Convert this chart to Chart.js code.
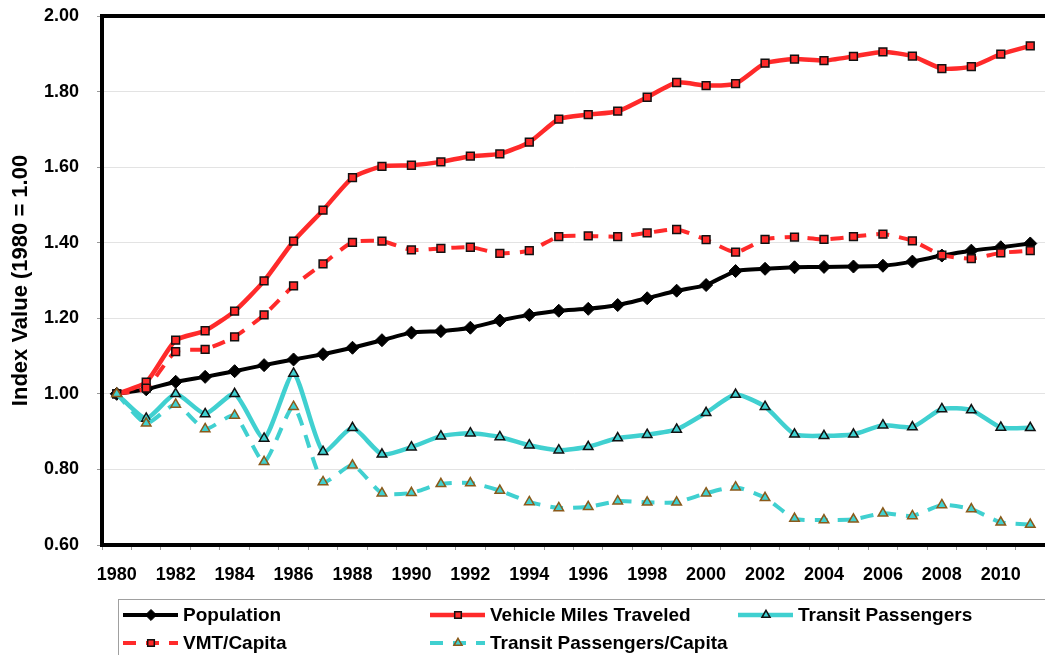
<!DOCTYPE html>
<html>
<head>
<meta charset="utf-8">
<script src="https://cdn.jsdelivr.net/npm/chart.js@4/dist/chart.umd.min.js"></script>
<style>
  html, body { margin: 0; padding: 0; background: #fff; }
  #wrap { width: 1045px; height: 655px; overflow: hidden; }
</style>
</head>
<body>
<div id="wrap"><canvas id="c" width="1045" height="655"></canvas></div>
<script>
const years = ['1980','1981','1982','1983','1984','1985','1986','1987','1988','1989',
               '1990','1991','1992','1993','1994','1995','1996','1997','1998','1999',
               '2000','2001','2002','2003','2004','2005','2006','2007','2008','2009',
               '2010','2011'];

const population = [1.000,1.012,1.032,1.045,1.060,1.076,1.091,1.105,1.122,1.142,
                    1.162,1.166,1.175,1.194,1.209,1.220,1.225,1.235,1.253,1.273,
                    1.288,1.325,1.331,1.335,1.336,1.337,1.339,1.350,1.366,1.379,
                    1.388,1.398];

const vmt = [1.000,1.031,1.142,1.167,1.219,1.299,1.404,1.486,1.572,1.602,
             1.605,1.614,1.629,1.635,1.666,1.727,1.739,1.748,1.785,1.824,
             1.816,1.821,1.875,1.886,1.882,1.893,1.905,1.894,1.861,1.866,
             1.899,1.921];

const vmtPerCapita = [1.000,1.015,1.112,1.118,1.151,1.209,1.286,1.344,1.401,1.404,
                      1.381,1.385,1.388,1.372,1.379,1.416,1.418,1.416,1.426,1.435,
                      1.408,1.375,1.409,1.415,1.409,1.416,1.423,1.405,1.367,1.358,
                      1.373,1.379];

const transit = [1.000,0.935,1.000,0.947,1.000,0.882,1.054,0.847,0.910,0.840,
                 0.859,0.888,0.896,0.886,0.864,0.851,0.860,0.883,0.892,0.906,
                 0.950,0.998,0.966,0.893,0.889,0.893,0.917,0.912,0.960,0.957,
                 0.911,0.910];

const transitPerCapita = [1.000,0.922,0.972,0.907,0.943,0.820,0.966,0.767,0.811,0.737,
                          0.738,0.762,0.764,0.744,0.714,0.698,0.701,0.716,0.713,0.713,
                          0.737,0.753,0.725,0.670,0.666,0.668,0.684,0.677,0.706,0.695,
                          0.660,0.654];

const yTicks = [0.60, 0.80, 1.00, 1.20, 1.40, 1.60, 1.80, 2.00];
const seriesNames = ['Population','Vehicle Miles Traveled','Transit Passengers','VMT/Capita','Transit Passengers/Capita'];
const yTitle = 'Index Value (1980 = 1.00';

const FONT = '"Liberation Sans", Arial, Helvetica, sans-serif';
const RED = '#ff2a2a';
const TURQ = '#40d0d0';
const DASH = [13, 10];

const framePlugin = {
  id: 'frame',
  afterDraw(chart) {
    const {ctx, chartArea: a} = chart;
    ctx.save();
    ctx.strokeStyle = '#000';
    ctx.lineWidth = 4;
    ctx.beginPath();
    ctx.moveTo(a.left - 2, a.top);
    ctx.lineTo(a.right, a.top);
    ctx.stroke();
    ctx.restore();
  }
};

const legendPlugin = {
  id: 'customLegend',
  afterDraw(chart) {
    const ctx = chart.ctx;
    ctx.save();
    ctx.strokeStyle = '#a0a0a0';
    ctx.lineWidth = 1;
    ctx.strokeRect(118.5, 599.5, 1000, 100);
    const pos = [[123,615],[430,615],[738,615],[123,643],[430,643]];
    chart.data.datasets.forEach((ds, i) => {
      const [x, y] = pos[i];
      ctx.setLineDash(ds.borderDash || []);
      ctx.lineWidth = ds.borderWidth;
      ctx.strokeStyle = ds.borderColor;
      ctx.beginPath();
      ctx.moveTo(x, y);
      ctx.lineTo(x + 55, y);
      ctx.stroke();
      ctx.setLineDash([]);
      ctx.fillStyle = ds.pointBackgroundColor;
      ctx.strokeStyle = ds.pointBorderColor;
      ctx.lineWidth = ds.pointBorderWidth;
      Chart.helpers.drawPoint(ctx, {pointStyle: ds.pointStyle, radius: ds.pointRadius * 0.85, rotation: 0, borderWidth: ds.pointBorderWidth}, x + 28, y);
      ctx.fillStyle = '#000';
      ctx.font = 'bold 19px ' + FONT;
      ctx.textBaseline = 'middle';
      ctx.textAlign = 'left';
      ctx.fillText(ds.label, x + 60, y + 1);
    });
    ctx.restore();
  }
};

new Chart(document.getElementById('c'), {
  type: 'line',
  data: {
    labels: years,
    datasets: [
      { label: seriesNames[0], data: population, borderColor: '#000', borderWidth: 4,
        pointStyle: 'rectRot', pointRadius: 6.5, pointBackgroundColor: '#000', pointBorderColor: '#000', pointBorderWidth: 1,
        tension: 0.15, order: 4 },
      { label: seriesNames[1], data: vmt, borderColor: RED, borderWidth: 4.5,
        pointStyle: 'rect', pointRadius: 5.5, pointBackgroundColor: RED, pointBorderColor: '#111', pointBorderWidth: 1.5,
        tension: 0.2, order: 3 },
      { label: seriesNames[2], data: transit, borderColor: TURQ, borderWidth: 4.5,
        pointStyle: 'triangle', pointRadius: 5.5, pointBackgroundColor: TURQ, pointBorderColor: '#111', pointBorderWidth: 1.5,
        tension: 0.2, order: 2 },
      { label: seriesNames[3], data: vmtPerCapita, borderColor: RED, borderWidth: 4, borderDash: DASH,
        pointStyle: 'rect', pointRadius: 5.5, pointBackgroundColor: RED, pointBorderColor: '#111', pointBorderWidth: 1.5,
        tension: 0.2, order: 1 },
      { label: seriesNames[4], data: transitPerCapita, borderColor: TURQ, borderWidth: 4, borderDash: DASH,
        pointStyle: 'triangle', pointRadius: 5.5, pointBackgroundColor: TURQ, pointBorderColor: '#8a5a1a', pointBorderWidth: 1.5,
        tension: 0.2, order: 0 }
    ]
  },
  options: {
    responsive: false,
    animation: false,
    devicePixelRatio: 1,
    layout: { autoPadding: false, padding: { left: 0, top: 16, right: 0, bottom: 0 } },
    plugins: { legend: { display: false }, tooltip: { enabled: false } },
    scales: {
      x: {
        offset: true,
        afterFit(scale) { scale.height = 110; scale.paddingLeft = 0; scale.paddingRight = 0; },
        grid: { display: true, drawOnChartArea: false, drawTicks: true, tickLength: 5, tickColor: '#999', offset: true },
        border: { display: true, color: '#000', width: 4 },
        ticks: {
          autoSkip: false, maxRotation: 0, minRotation: 0, padding: 14, color: '#000',
          font: { family: FONT, size: 18, weight: 'bold' },
          callback(value, index) { return index % 2 === 0 ? this.getLabelForValue(value) : ''; }
        }
      },
      y: {
        min: yTicks[0], max: yTicks[yTicks.length - 1],
        afterFit(scale) { scale.width = 102; scale.paddingTop = 0; scale.paddingBottom = 0; },
        afterBuildTicks(scale) { scale.ticks = yTicks.map(v => ({ value: v })); },
        grid: { color: '#e3e3e3', lineWidth: 1, drawTicks: true, tickLength: 5, tickColor: '#999' },
        border: { display: true, color: '#000', width: 4 },
        ticks: {
          padding: 18, color: '#000',
          font: { family: FONT, size: 18, weight: 'bold' },
          callback(v) { return Number(v).toFixed(2); }
        },
        title: {
          display: true, text: yTitle, color: '#000',
          padding: { top: 8, bottom: 0 },
          font: { family: FONT, size: 22, weight: 'bold' }
        }
      }
    }
  },
  plugins: [framePlugin, legendPlugin]
});
</script>
</body>
</html>
